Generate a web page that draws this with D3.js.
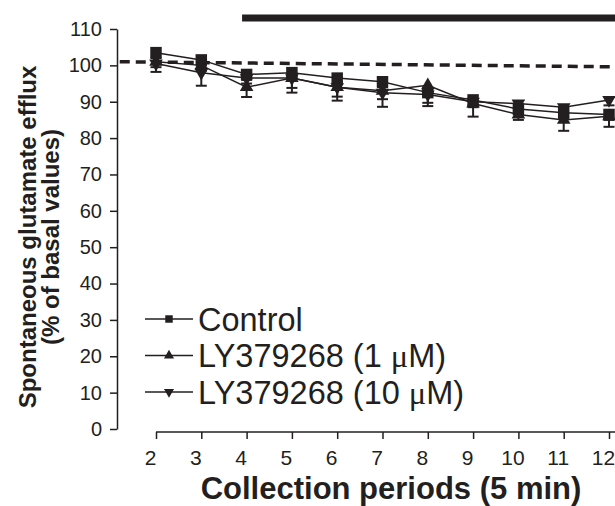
<!DOCTYPE html>
<html>
  <head>
    <meta charset="utf-8">
    <title>Spontaneous glutamate efflux</title>
    <script src="https://d3js.org/d3.v7.min.js"></script>
    <style>
      body { margin: 0; background: #fff; }
      svg { display: block; font-family: "Liberation Sans", Arial, Helvetica, sans-serif; }
      .axis path, .axis line { stroke: #231f20; stroke-width: 1.5; }
      .axis text { fill: #231f20; }
      .series path.line { fill: none; stroke: #231f20; stroke-width: 1.5; }
      .err { stroke: #231f20; stroke-width: 2; }
      .mark { fill: #231f20; }
    </style>
  </head>
  <body>
    <svg id="chart" width="615" height="506">
      <g id="axisGroup">
        <g id="xAxisGroup" class="axis"></g>
        <g id="yAxisGroup" class="axis"></g>
      </g>
      <g id="annotGroup"></g>
      <g id="chartGroup"></g>
      <g id="legendGroup"></g>
    </svg>
    <script>
      // values (% of basal values, mean and lower SEM)
      periods = [2, 3, 4, 5, 6, 7, 8, 9, 10, 11, 12];
      control = [103.5, 101.5, 97.5, 98, 96.5, 95.5, 92.5, 90.5, 88, 87, 86.5];
      controlErr = [1.5, 1.5, 1.5, 1.5, 1.5, 1.5, 3.7, 1.5, 1.5, 1.5, 1.5];
      ly1 = [101, 100, 94, 96.5, 94, 93, 94.5, 89.5, 86.5, 85, 86];
      ly1Err = [1.5, 1.5, 2.7, 2.7, 2.6, 2.3, 2, 3.6, 1.5, 3, 2.9];
      ly10 = [100.5, 98, 96.5, 96.5, 94, 92.5, 92, 90, 89.5, 88.5, 90.5];
      ly10Err = [2.3, 3.6, 1.5, 4, 3.7, 3.9, 2.3, 1.5, 1.5, 1.5, 1.5];
      seriesNames = ["Control", "LY379268 (1 \u03bcM)", "LY379268 (10 \u03bcM)"];
      yTicks = [0, 10, 20, 30, 40, 50, 60, 70, 80, 90, 100, 110];
      xTicks = periods;
      // basal reference line and drug application bar (data units)
      basalLine = [[1.2, 101], [12.2, 99.6]];
      drugBar = [3.9, 12.2];
      drugBarLevel = 113;

      ink = "#231f20";
      chart = d3.select("#chart");
      xAxisGroup = d3.select("#xAxisGroup");
      yAxisGroup = d3.select("#yAxisGroup");
      annotGroup = d3.select("#annotGroup");
      chartGroup = d3.select("#chartGroup");
      legendGroup = d3.select("#legendGroup");

      // scales
      x = d3.scaleLinear().domain([2, 12]).range([156, 609]);
      y = d3.scaleLinear().domain([0, 110]).range([429, 29]);

      // axes
      yAxis = d3.axisLeft(y)
        .tickValues(yTicks)
        .tickSizeInner(7)
        .tickSizeOuter(0)
        .tickPadding(8);
      yAxisGroup.attr("transform", "translate(117, 0)")
        .call(yAxis)
        .selectAll("text")
          .style("font-size", "20px");
      xAxis = d3.axisBottom(x)
        .tickValues(xTicks)
        .tickSizeInner(7)
        .tickSizeOuter(0)
        .tickPadding(11);
      xAxisGroup.attr("transform", "translate(0, 432)")
        .call(xAxis)
        .selectAll("text")
          .attr("dx", -6)
          .style("font-size", "21px");
      xAxisGroup.select(".domain").attr("d", "M" + x(2) + ",0H615");

      // axis titles
      chart.append("text")
        .attr("transform", "translate(36, 237) rotate(-90)")
        .attr("text-anchor", "middle")
        .style("font-size", "24px")
        .style("font-weight", "bold")
        .attr("fill", ink)
        .text("Spontaneous glutamate efflux");
      chart.append("text")
        .attr("transform", "translate(59, 237) rotate(-90)")
        .attr("text-anchor", "middle")
        .style("font-size", "24px")
        .style("font-weight", "bold")
        .attr("fill", ink)
        .text("(% of basal values)");
      chart.append("text")
        .attr("x", 391)
        .attr("y", 499)
        .attr("text-anchor", "middle")
        .style("font-size", "31px")
        .style("font-weight", "bold")
        .attr("fill", ink)
        .text("Collection periods (5 min)");

      // annotations
      annotGroup.append("line")
        .attr("x1", x(basalLine[0][0]))
        .attr("y1", y(basalLine[0][1]))
        .attr("x2", x(basalLine[1][0]))
        .attr("y2", y(basalLine[1][1]))
        .attr("stroke", ink)
        .attr("stroke-width", 3.5)
        .attr("stroke-dasharray", "10,6");
      annotGroup.append("line")
        .attr("x1", x(drugBar[0]))
        .attr("x2", x(drugBar[1]))
        .attr("y1", y(drugBarLevel))
        .attr("y2", y(drugBarLevel))
        .attr("stroke", ink)
        .attr("stroke-width", 7);

      // series
      series = [
        { name: seriesNames[0], values: control, err: controlErr, shape: "square" },
        { name: seriesNames[1], values: ly1, err: ly1Err, shape: "up" },
        { name: seriesNames[2], values: ly10, err: ly10Err, shape: "down" }
      ];
      function marker(shape, big) {
        if (shape == "square") return d3.symbol(d3.symbolSquare, big ? 132 : 56)();
        return d3.symbol(d3.symbolTriangle, big ? 80 : 44)();
      }
      line = d3.line()
        .x(function(d, i) { return x(periods[i]); })
        .y(function(d) { return y(d); });
      groups = chartGroup.selectAll("g.series")
        .data(series)
        .enter().append("g")
          .classed("series", true);
      groups.append("path")
        .classed("line", true)
        .attr("d", function(s) { return line(s.values); });
      // lower error bars
      groups.each(function(s) {
        var g = d3.select(this);
        s.values.forEach(function(v, i) {
          var cx = x(periods[i]), lo = y(v - s.err[i]);
          g.append("line").classed("err", true)
            .attr("x1", cx).attr("x2", cx).attr("y1", y(v)).attr("y2", lo);
          g.append("line").classed("err", true)
            .attr("x1", cx - 5.5).attr("x2", cx + 5.5).attr("y1", lo).attr("y2", lo);
        });
      });
      groups.each(function(s) {
        d3.select(this).selectAll("path.mark")
          .data(s.values)
          .enter().append("path")
            .classed("mark", true)
            .attr("d", marker(s.shape, true))
            .attr("transform", function(d, i) {
              return "translate(" + x(periods[i]) + "," + y(d) + ")" +
                (s.shape == "down" ? " rotate(180)" : "");
            });
      });

      // legend
      legendRows = legendGroup.selectAll("g")
        .data(series)
        .enter().append("g")
          .attr("transform", function(d, i) { return "translate(145," + (319 + i * 36.5) + ")"; });
      legendRows.append("line")
        .attr("x1", 0).attr("x2", 48)
        .attr("stroke", ink).attr("stroke-width", 1.5);
      legendRows.append("path")
        .classed("mark", true)
        .attr("d", function(d) { return marker(d.shape, false); })
        .attr("transform", function(d) { return "translate(24,0)" + (d.shape == "down" ? " rotate(180)" : ""); });
      legendText = legendRows.append("text")
        .attr("x", 53)
        .attr("dy", "0.36em")
        .style("font-size", "32.5px")
        .attr("fill", ink);
      // the micro sign is set in a serif face, as in the figure
      legendText.each(function(d) {
        var parts = d.name.split("\u03bc"), t = d3.select(this);
        t.append("tspan").text(parts[0]);
        if (parts.length > 1) {
          t.append("tspan").style("font-family", "'Liberation Serif', 'Times New Roman', serif").text("\u03bc");
          t.append("tspan").text(parts[1]);
        }
      });
    </script>
  </body>
</html>
